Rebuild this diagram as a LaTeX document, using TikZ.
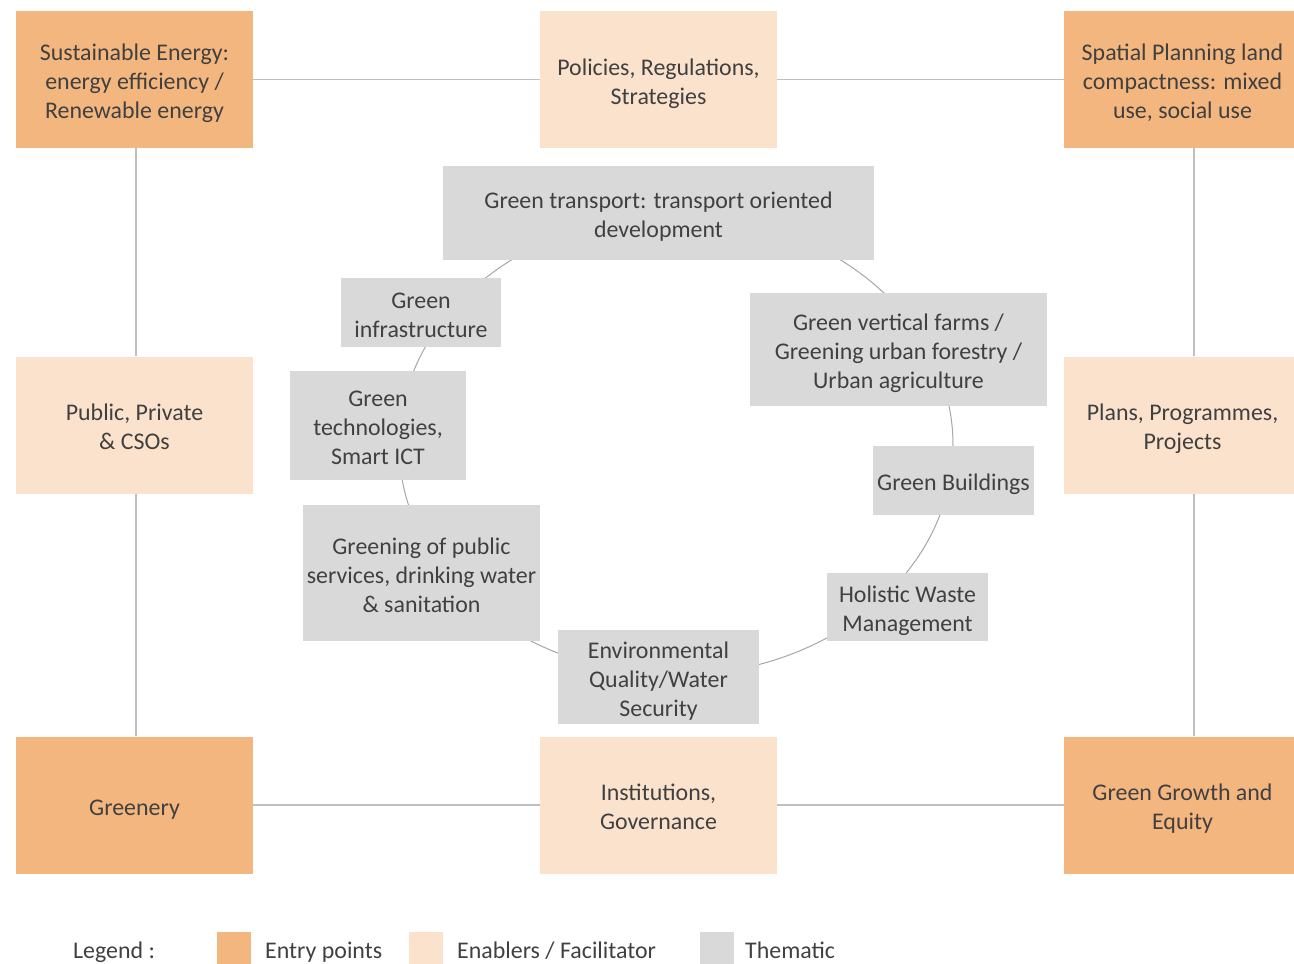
\documentclass[tikz,border=0pt]{standalone}
\usepackage{fontspec}
\setmainfont{Carlito}
\definecolor{entryc}{HTML}{F4B67F}
\definecolor{enablec}{HTML}{FBE2CC}
\definecolor{themec}{HTML}{D9D9D9}
\definecolor{txt}{HTML}{404040}
\definecolor{framec}{HTML}{BFBFBF}
\definecolor{ringc}{HTML}{A6A6A6}
% centred lines of box text, set a little low in the box
\newcommand{\boxtext}[1]{\raisebox{-4.2pt}[\height][\depth]{\begin{tabular}{@{}c@{}}#1\end{tabular}}}
\begin{document}
\begin{tikzpicture}[x=1pt,y=-1pt,
  box/.style={draw=none, inner sep=0pt, text=txt,
    font=\fontsize{23.9}{29}\selectfont},
  entry/.style={box, fill=entryc, minimum width=237pt, minimum height=137pt},
  enable/.style={box, fill=enablec, minimum width=237pt, minimum height=137pt},
  theme/.style={box, fill=themec},
  frame/.style={draw=framec, line width=1.3pt},
  ring/.style={draw=ringc, line width=1pt},
  legtext/.style={inner sep=0pt, anchor=base west, text=txt, font=\fontsize{23.9}{29}\selectfont},
  swatch/.style={inner sep=0pt, minimum width=34pt, minimum height=33pt}
]
\useasboundingbox (0,0) rectangle (1294,964);

% ring of thematic areas, drawn behind the boxes
\draw[ring] (676,445) ellipse [x radius=277pt, y radius=230pt];

% outer frame: entry points and enablers
\node[entry]  (energy)   at (134.5,79.5)  {\boxtext{Sustainable Energy:\\energy efficiency /\\Renewable energy}};
\node[enable] (policies) at (658.5,79.5)  {\boxtext{Policies, Regulations,\\Strategies}};
\node[entry]  (spatial)  at (1182.5,79.5) {\boxtext{Spatial Planning land\\compactness: mixed\\use, social use}};
\node[enable] (actors)   at (134.5,425)   {\boxtext{Public, Private\\\& CSOs}};
\node[enable] (plans)    at (1182.5,425)  {\boxtext{Plans, Programmes,\\Projects}};
\node[entry]  (greenery) at (134.5,805)   {\boxtext{Greenery}};
\node[enable] (inst)     at (658.5,805)   {\boxtext{Institutions,\\Governance}};
\node[entry]  (growth)   at (1182.5,805)  {\boxtext{Green Growth and\\Equity}};

\draw[frame] (energy) -- (policies);
\draw[frame] (policies) -- (spatial);
\draw[frame] (greenery) -- (inst);
\draw[frame] (inst) -- (growth);
\draw[frame] ([xshift=1.5pt]energy.south) -- ([xshift=1.5pt]actors.north);
\draw[frame] ([xshift=1.5pt]actors.south) -- ([xshift=1.5pt]greenery.north);
\draw[frame] ([xshift=11.5pt]spatial.south) -- ([xshift=11.5pt]plans.north);
\draw[frame] ([xshift=11.5pt]plans.south) -- ([xshift=11.5pt]growth.north);

% thematic areas
\node[theme, minimum width=431pt, minimum height=94pt]  (transport) at (658.5,213)  {\boxtext{Green transport: transport oriented\\development}};
\node[theme, minimum width=160pt, minimum height=69pt]  (infra)     at (421,312.5)  {\boxtext{Green\\infrastructure}};
\node[theme, minimum width=176pt, minimum height=109pt] (tech)      at (378,425.5)  {\boxtext{Green\\technologies,\\Smart ICT}};
\node[theme, minimum width=237pt, minimum height=136pt] (public)    at (421.5,573)  {\boxtext{Greening of public\\services, drinking water\\\& sanitation}};
\node[theme, minimum width=201pt, minimum height=94pt]  (envq)      at (658.5,677)  {\boxtext{Environmental\\Quality/Water\\Security}};
\node[theme, minimum width=161pt, minimum height=68pt]  (waste)     at (907.5,607)  {\boxtext{Holistic Waste\\Management}};
\node[theme, minimum width=161pt, minimum height=69pt]  (buildings) at (953.5,480.5) {\boxtext{Green Buildings}};
\node[theme, minimum width=297pt, minimum height=113pt] (farms)     at (898.5,349.5) {\boxtext{Green vertical farms /\\Greening urban forestry /\\Urban agriculture}};

% legend
\node[legtext] (legend) at (73,958) {Legend :};
\node[swatch, fill=entryc]  (s1) at (234,948.5) {};
\node[legtext] (l1) at (265,958) {Entry points};
\node[swatch, fill=enablec] (s2) at (426,948.5) {};
\node[legtext] (l2) at (457,958) {Enablers / Facilitator};
\node[swatch, fill=themec]  (s3) at (717,948.5) {};
\node[legtext] (l3) at (745,958) {Thematic};
\end{tikzpicture}
\end{document}
